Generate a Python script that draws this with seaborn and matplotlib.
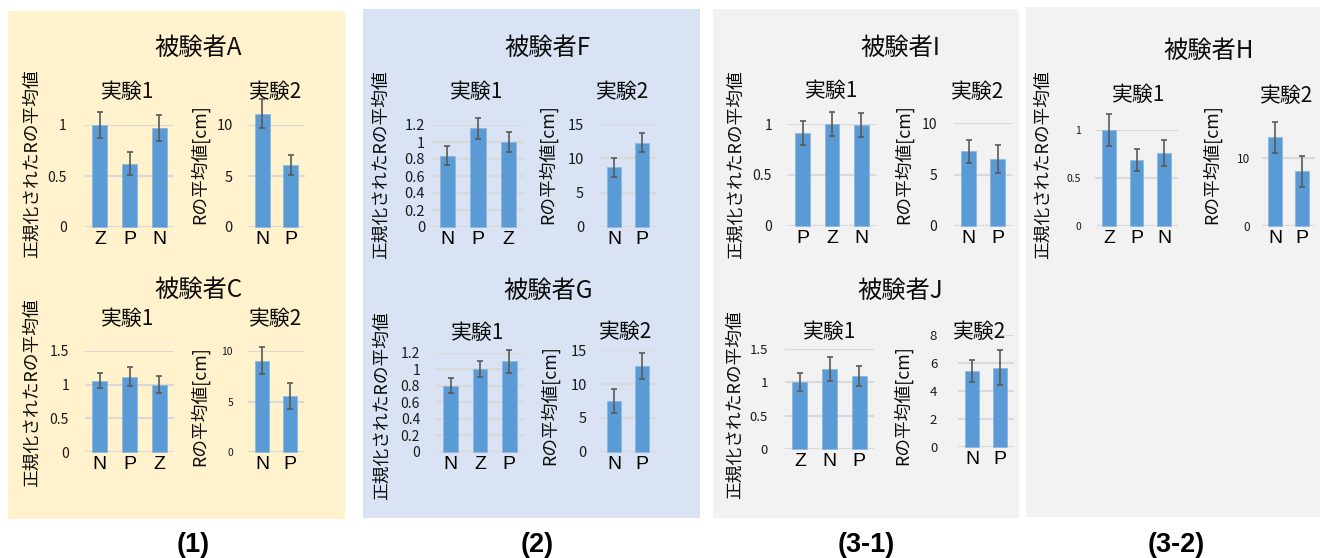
import matplotlib
matplotlib.use("Agg")
import matplotlib.pyplot as plt
from matplotlib.patches import Rectangle
import seaborn as sns

sns.set_theme(style="white")
plt.rcParams['font.family'] = ['Noto Sans CJK JP', 'DejaVu Sans']

# ---------------- data ----------------
A1_cats = ['Z', 'P', 'N']; A1_vals = [1.00, 0.62, 0.97]; A1_err = [0.13, 0.115, 0.125]
A2_cats = ['N', 'P'];      A2_vals = [11.1, 6.05];       A2_err = [1.4, 1.0]
C1_cats = ['N', 'P', 'Z']; C1_vals = [1.06, 1.12, 1.00]; C1_err = [0.11, 0.135, 0.13]
C2_cats = ['N', 'P'];      C2_vals = [9.05, 5.55];       C2_err = [1.35, 1.3]
F1_cats = ['N', 'P', 'Z']; F1_vals = [0.84, 1.16, 1.00]; F1_err = [0.11, 0.12, 0.12]
F2_cats = ['N', 'P'];      F2_vals = [8.7, 12.3];        F2_err = [1.4, 1.4]
G1_cats = ['N', 'Z', 'P']; G1_vals = [0.80, 1.00, 1.10]; G1_err = [0.09, 0.097, 0.14]
G2_cats = ['N', 'P'];      G2_vals = [7.5, 12.7];        G2_err = [1.8, 1.95]
I1_cats = ['P', 'Z', 'N']; I1_vals = [0.91, 1.00, 0.99]; I1_err = [0.12, 0.117, 0.115]
I2_cats = ['N', 'P'];      I2_vals = [7.25, 6.5];        I2_err = [1.15, 1.4]
J1_cats = ['Z', 'N', 'P']; J1_vals = [1.00, 1.20, 1.09]; J1_err = [0.13, 0.18, 0.155]
J2_cats = ['N', 'P'];      J2_vals = [5.45, 5.65];       J2_err = [0.8, 1.25]
H1_cats = ['Z', 'P', 'N']; H1_vals = [1.00, 0.685, 0.76]; H1_err = [0.165, 0.115, 0.14]
H2_cats = ['N', 'P'];      H2_vals = [13.0, 8.0];        H2_err = [2.25, 2.25]

ticks_norm_05 = [0, 0.5, 1]
ticks_norm_15 = [0, 0.5, 1, 1.5]
ticks_norm_02 = [0, 0.2, 0.4, 0.6, 0.8, 1.0, 1.2]
ticks_cm_10 = [0, 5, 10]
ticks_cm_15 = [0, 5, 10, 15]
ticks_cm_8 = [0, 2, 4, 6, 8]
ticks_cm_H = [0, 10]

subjects = ['被験者A', '被験者C', '被験者F', '被験者G', '被験者I', '被験者J', '被験者H']
exp_titles = ['実験1', '実験2']
ylabel1 = '正規化されたRの平均値'
ylabel2 = 'Rの平均値[cm]'
group_labels = ['(1)', '(2)', '(3-1)', '(3-2)']

# ---------------- layout ----------------
W, H = 1320, 558
fig = plt.figure(figsize=(W / 100, H / 100), dpi=100)
fig.patch.set_facecolor('white')

BAR = '#5B9BD5'
ERR = '#595959'
GRID = '#D9D9D9'
TXT = '#0d0d0d'

def fx(x):
    return x / W

def fy(y):
    return 1 - y / H

# panel backgrounds (pixel: x0, y0, x1, y1, colour)
panels = [(8, 11, 345, 519, '#FFF2CC'),
          (363, 9, 700, 518, '#DAE3F3'),
          (713, 9, 1019, 518, '#F2F2F2'),
          (1026, 7, 1320, 517, '#F2F2F2')]
for x0, y0, x1, y1, c in panels:
    fig.add_artist(Rectangle((fx(x0), fy(y1)), fx(x1) - fx(x0), fy(y0) - fy(y1),
                             transform=fig.transFigure, facecolor=c, edgecolor='none', zorder=0))

def chart(cats, vals, err, box, ymax, ticks, tick_fs, tick_pad, bw):
    left, right, y0, ytop = box
    ax = fig.add_axes([fx(left), fy(y0), fx(right) - fx(left), fy(ytop) - fy(y0)])
    ax.set_facecolor('none')
    sns.barplot(x=cats, y=vals, order=cats, color=BAR, saturation=1, width=bw,
                errorbar=None, ax=ax, edgecolor='#8DB7E2', linewidth=0.6, zorder=2)
    for p in ax.patches:
        p.set_clip_on(False)
    eb = ax.errorbar(range(len(cats)), vals, yerr=err, fmt='none', ecolor=ERR,
                     elinewidth=1.2, capsize=2.3, capthick=1.2, zorder=3)
    for art in eb.get_children():
        art.set_clip_on(False)
    ax.set_xlim(-0.5, len(cats) - 0.5)
    ax.set_ylim(0, ymax)
    ax.set_yticks(ticks)
    ax.set_yticklabels(['{:g}'.format(t) for t in ticks], fontsize=tick_fs)
    ax.set_xticks(range(len(cats)))
    ax.set_xticklabels(cats, fontsize=14, family=['Liberation Sans', 'DejaVu Sans'])
    ax.tick_params(axis='y', length=0, pad=tick_pad, colors='#1a1a1a')
    ax.tick_params(axis='x', length=0, pad=3, colors='black')
    for s in ax.spines.values():
        s.set_visible(False)
    ax.yaxis.grid(True, color=GRID, linewidth=1.5)
    ax.xaxis.grid(False)
    ax.set_axisbelow(True)
    ax.set_xlabel('')
    ax.set_ylabel('')
    return ax

# subject A
chart(A1_cats, A1_vals, A1_err, (85, 174, 227, 125), 1.0, ticks_norm_05, 10, 13, 0.5)
chart(A2_cats, A2_vals, A2_err, (248, 305, 227, 125), 10, ticks_cm_10, 10.5, 10.8, 0.53)
# subject C
chart(C1_cats, C1_vals, C1_err, (85, 174, 452, 351), 1.5, ticks_norm_15, 10, 11.5, 0.5)
chart(C2_cats, C2_vals, C2_err, (248, 304, 452, 351), 10, ticks_cm_10, 7.5, 10.8, 0.53)
# subject F
chart(F1_cats, F1_vals, F1_err, (432, 524, 227, 125), 1.2, ticks_norm_02, 10.5, 5, 0.5)
chart(F2_cats, F2_vals, F2_err, (600, 656, 227, 124), 15, ticks_cm_15, 10.5, 11.5, 0.53)
# subject G
chart(G1_cats, G1_vals, G1_err, (436, 524, 451.7, 353), 1.2, ticks_norm_02, 10, 11.5, 0.5)
chart(G2_cats, G2_vals, G2_err, (600, 656, 451.7, 350.3), 15, ticks_cm_15, 10.5, 9.4, 0.53)
# subject I
chart(I1_cats, I1_vals, I1_err, (788, 876, 225.7, 124), 1.0, ticks_norm_05, 10, 11.5, 0.5)
chart(I2_cats, I2_vals, I2_err, (954, 1012, 225.7, 123.3), 10, ticks_cm_10, 10, 12.2, 0.53)
# subject J
chart(J1_cats, J1_vals, J1_err, (785, 874, 449, 348.7), 1.5, ticks_norm_15, 9.5, 12.2, 0.5)
chart(J2_cats, J2_vals, J2_err, (958, 1014, 447, 335), 8, ticks_cm_8, 9.5, 15, 0.53)
# subject H
chart(H1_cats, H1_vals, H1_err, (1095, 1178, 226, 130), 1.0, ticks_norm_05, 7.5, 10, 0.5)
chart(H2_cats, H2_vals, H2_err, (1262, 1315, 226, 116.7), 16, ticks_cm_H, 8.5, 8.6, 0.53)

# titles (pixel centres)
title_pos = [(198, 48), (198, 290), (547, 48), (548, 291), (900, 48), (900, 291), (1209, 51)]
exp_pos = [((128, 92), (276, 92)), ((128, 319), (276, 319)),
           ((477, 92), (623, 92)), ((478, 333), (626, 332)),
           ((832, 91), (978, 92)), ((830, 332), (980, 332)),
           ((1139, 95), (1287, 96))]
ylab_pos = [((32, 164), (200, 164.5)), ((32, 393), (200, 406)),
            ((381, 165), (548, 164.5)), ((382, 406), (550, 405)),
            ((736, 164.5), (904, 164.5)), ((735, 405), (903, 405)),
            ((1043, 165), (1212, 164.5))]

for name, (tx, ty), exps, ylabs in zip(subjects, title_pos, exp_pos, ylab_pos):
    fig.text(fx(tx), fy(ty), name, fontsize=17.5, ha='center', va='center', color=TXT)
    for t, (ex, ey) in zip(exp_titles, exps):
        fig.text(fx(ex), fy(ey), t, fontsize=15, ha='center', va='center', color=TXT)
    fig.text(fx(ylabs[0][0]), fy(ylabs[0][1]), ylabel1, fontsize=12.8, rotation=90,
             ha='center', va='center', color=TXT)
    fig.text(fx(ylabs[1][0]), fy(ylabs[1][1]), ylabel2, fontsize=12.8, rotation=90,
             ha='center', va='center', color=TXT)

label_pos = [(193, 545), (537, 545), (866, 545), (1176, 545)]
for lab, (lx, ly) in zip(group_labels, label_pos):
    fig.text(fx(lx), fy(ly), lab, fontsize=19.5, fontweight='bold', ha='center', va='center',
             family=['Liberation Sans', 'DejaVu Sans'], color='black')

fig.savefig('out.png', dpi=100, facecolor='white')
